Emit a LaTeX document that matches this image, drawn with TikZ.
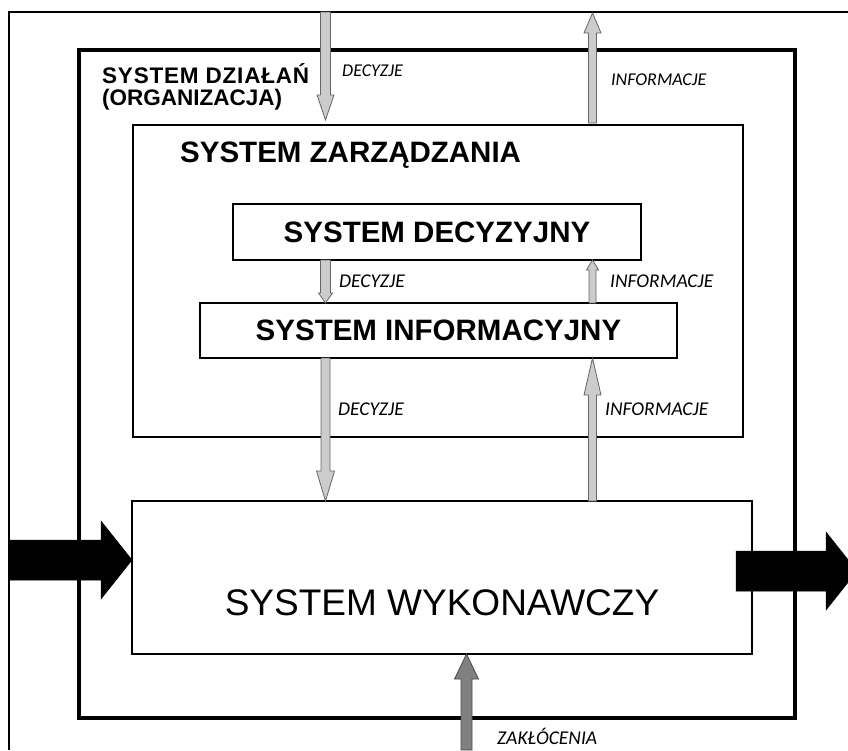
\documentclass[tikz,border=0pt]{standalone}
\usepackage{fontspec}
\setmainfont{Liberation Sans}
\newfontfamily\labfont{Carlito}
\newfontfamily\spacedbold[LetterSpace=3.5]{Liberation Sans Bold}
\usetikzlibrary{calc}
\newcommand\fatarrow[6][]{%
  \path[#1] let \p1=(#2), \p2=(#3), \n1={veclen(\x2-\x1,\y2-\y1)},
    \n2={(\x2-\x1)/\n1}, \n3={(\y2-\y1)/\n1} in
    ({\x1-\n3*#4},{\y1+\n2*#4}) --
    ({\x2-\n2*#6-\n3*#4},{\y2-\n3*#6+\n2*#4}) --
    ({\x2-\n2*#6-\n3*#5},{\y2-\n3*#6+\n2*#5}) --
    (\x2,\y2) --
    ({\x2-\n2*#6+\n3*#5},{\y2-\n3*#6-\n2*#5}) --
    ({\x2-\n2*#6+\n3*#4},{\y2-\n3*#6-\n2*#4}) --
    ({\x1+\n3*#4},{\y1-\n2*#4}) -- cycle;}
\begin{document}
\begin{tikzpicture}[x=1pt,y=-1pt,
  box/.style={draw, line width=1.3pt, fill=white, inner sep=0pt, outer sep=0pt},
  bigtext/.style={font=\bfseries\fontsize{29.5}{29.5}\selectfont},
  lbl/.style={font=\labfont\itshape\fontsize{19.5}{19.5}\selectfont, anchor=west, inner sep=0pt},
  toplbl/.style={lbl, font=\labfont\itshape\fontsize{18}{18}\selectfont},
  lightarrow/.style={fill=black!20, draw=black!60, line width=0.8pt},
  darkarrow/.style={fill=black!50, draw=black!70, line width=0.8pt},
  blackarrow/.style={fill=black, draw=black, line width=0.5pt}]
\useasboundingbox (0,0) rectangle (848,750);
\clip (0,0) rectangle (848,750);
\fill[white] (0,0) rectangle (848,750);
% thin outer frame
\coordinate (fbl) at (9,750);
\coordinate (ftl) at (9,12);
\coordinate (ftr) at (848,12);
\draw[line width=1.1pt] (fbl) -- (ftl) -- (ftr);
% boxes
\node[draw, line width=3.6pt, inner sep=0pt, outer sep=0pt, minimum width=716pt, minimum height=668pt] (dzial) at (437,384) {};
\node[box, minimum width=610pt, minimum height=312pt] (zarz) at (438,281) {};
\node[box, bigtext, minimum width=408pt, minimum height=56pt] (decy) at (437,232) {SYSTEM DECYZYJNY};
\node[box, bigtext, minimum width=477pt, minimum height=55pt] (info) at (438.5,330.5) {SYSTEM INFORMACYJNY};
\node[box, minimum width=620pt, minimum height=153pt] (wyk) at (442,577.5) {};
% box titles
\node[font=\spacedbold\fontsize{22.5}{22.5}\selectfont, anchor=base west, inner sep=0pt] (t1) at (102,83) {SYSTEM DZIAŁAŃ};
\node[font=\bfseries\fontsize{22.5}{22.5}\selectfont, anchor=base west, inner sep=0pt] (t2) at (102,105) {(ORGANIZACJA)};
\node[bigtext, anchor=west, inner sep=0pt] (tz) at (180,155) {SYSTEM ZARZĄDZANIA};
\node[font=\fontsize{37}{37}\selectfont, inner sep=0pt] (tw) at (442,603) {SYSTEM WYKONAWCZY};
% arrow columns
\coordinate (cD) at (325.5,12);
\coordinate (cI) at (592.5,13);
\coordinate (zD) at ($(zarz.north -| cD)+(0,-5)$);
\coordinate (zI) at ($(zarz.north -| cI)+(0,-2)$);
% gray arrows
\fatarrow[lightarrow]{cD}{zD}{5pt}{8.5pt}{25pt}
\fatarrow[lightarrow]{zI}{cI}{4pt}{8.5pt}{20pt}
\fatarrow[lightarrow]{decy.south -| cD}{info.north -| cD}{5pt}{7pt}{10pt}
\fatarrow[lightarrow]{info.north -| cI}{decy.south -| cI}{3.5pt}{6pt}{10pt}
\fatarrow[lightarrow]{info.south -| cD}{wyk.north -| cD}{4.5pt}{9pt}{30pt}
\fatarrow[lightarrow]{wyk.north -| cI}{info.south -| cI}{4pt}{8.5pt}{37pt}
% disturbance arrow
\coordinate (zak) at (466.5,750);
\fatarrow[darkarrow]{zak}{wyk.south -| zak}{5.5pt}{12pt}{25pt}
% black input / output arrows
\coordinate (inS) at (10,560);
\coordinate (outS) at (736,571);
\coordinate (outE) at (857,571);
\fatarrow[blackarrow]{inS}{wyk.west |- inS}{20pt}{39pt}{31pt}
\fatarrow[blackarrow]{outS}{outE}{20pt}{39pt}{31pt}
% labels
\node[toplbl] (l1) at (342,71) {DECYZJE};
\node[toplbl] (l2) at (611,80) {INFORMACJE};
\node[lbl] (l3) at (339,281) {DECYZJE};
\node[lbl] (l4) at (610,281) {INFORMACJE};
\node[lbl] (l5) at (338,409) {DECYZJE};
\node[lbl] (l6) at (605,409) {INFORMACJE};
\node[lbl] (l7) at (497,736) {ZAKŁÓCENIA};
\end{tikzpicture}
\end{document}
